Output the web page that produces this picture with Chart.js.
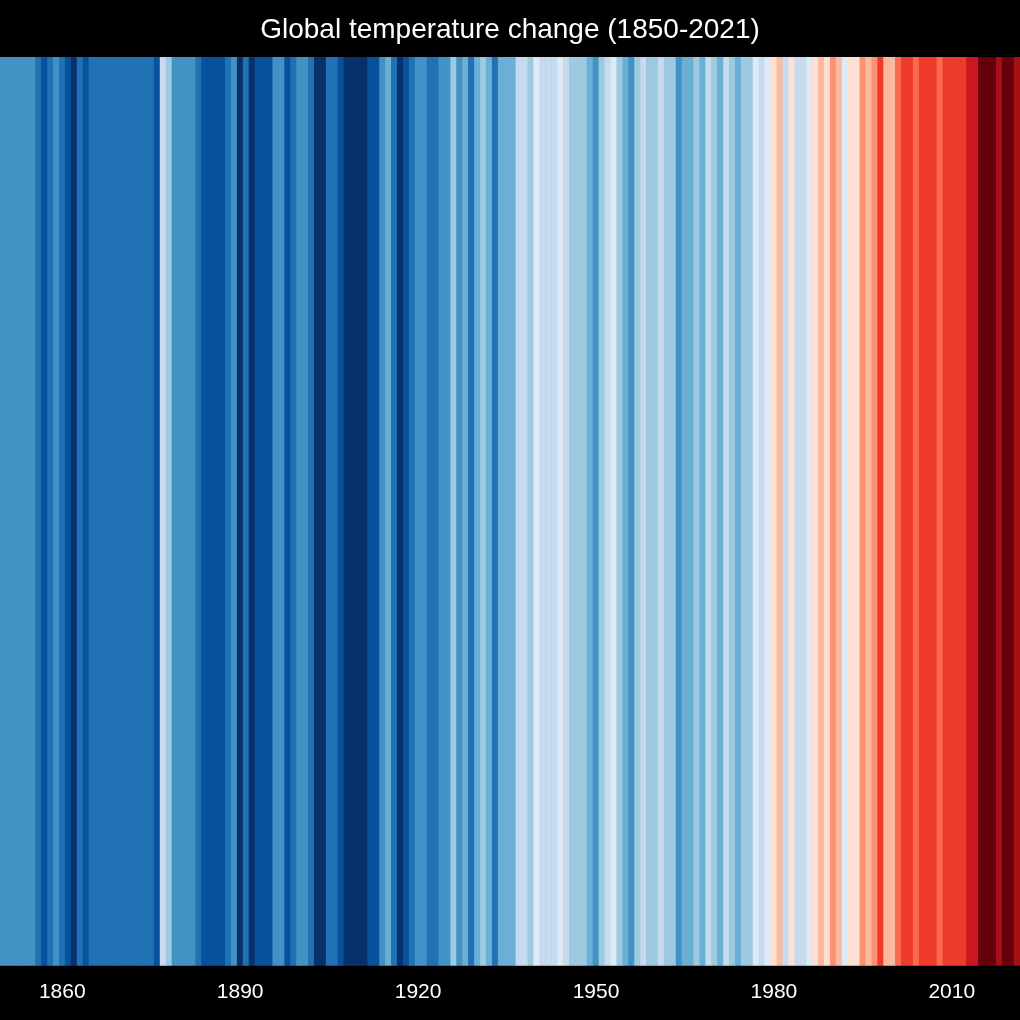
<!DOCTYPE html>
<html>
<head>
<meta charset="utf-8">
<script src="https://cdn.jsdelivr.net/npm/chart.js@4"></script>
<style>
  html, body { margin: 0; padding: 0; background: #000; }
  #wrap { width: 1020px; height: 1020px; position: relative; }
</style>
</head>
<body>
<div id="wrap"><canvas id="stripes"></canvas></div>
<script>
// yearly anomalies (°C), one row per block of years
const anom1850 = [-0.45, -0.45, -0.45, -0.45, -0.45, -0.45, -0.55, -0.65, -0.55, -0.45, -0.55, -0.65, -0.75, -0.55, -0.65];
const anom1865 = [-0.55, -0.55, -0.55, -0.55, -0.55, -0.55, -0.55, -0.55, -0.55, -0.55, -0.55, -0.65, -0.15, -0.25];
const anom1879 = [-0.45, -0.45, -0.45, -0.45, -0.55, -0.65, -0.65, -0.65, -0.65, -0.55, -0.45, -0.75, -0.55, -0.75];
const anom1893 = [-0.65, -0.65, -0.65, -0.45, -0.45, -0.65, -0.55, -0.45, -0.45, -0.55, -0.75, -0.75, -0.55, -0.55];
const anom1907 = [-0.65, -0.75, -0.75, -0.75, -0.75, -0.65, -0.65, -0.45, -0.35, -0.55, -0.75, -0.65, -0.55, -0.45, -0.45];
const anom1922 = [-0.55, -0.55, -0.45, -0.45, -0.25, -0.45, -0.35, -0.55, -0.35, -0.25, -0.35, -0.55, -0.35, -0.35];
const anom1936 = [-0.35, -0.15, -0.15, -0.25, -0.05, -0.15, -0.15, -0.15, -0.05, -0.15, -0.25, -0.25, -0.25, -0.35, -0.45];
const anom1951 = [-0.25, -0.15, -0.05, -0.25, -0.35, -0.45, -0.25, -0.15, -0.25, -0.25, -0.15, -0.25, -0.25, -0.45];
const anom1965 = [-0.35, -0.35, -0.25, -0.35, -0.15, -0.25, -0.35, -0.15, -0.25, -0.35, -0.25, -0.25, -0.05, -0.15];
const anom1979 = [-0.05, 0.05, 0.15, -0.15, 0.05, -0.15, -0.15, -0.05, 0.05, 0.15, 0.05, 0.25, 0.15, -0.05];
const anom1993 = [0.05, 0.05, 0.25, 0.15, 0.25, 0.45, 0.15, 0.15, 0.35, 0.45, 0.45, 0.35, 0.45, 0.45, 0.45];
const anom2008 = [0.35, 0.45, 0.45, 0.45, 0.45, 0.55, 0.55, 0.75, 0.75, 0.75, 0.65, 0.75, 0.75, 0.65];

const firstYear = 1850;
const tickYears = [1860, 1890, 1920, 1950, 1980, 2010];

// 8 blues + 8 reds, 0.1 °C per step starting at -0.8
const stripeColors = [
  '#08306b', '#08519c', '#2171b5', '#4292c6', '#6baed6', '#9ecae1', '#c6dbef', '#deebf7',
  '#fee0d2', '#fcbba1', '#fc9272', '#fb6a4a', '#ef3b2c', '#cb181d', '#a50f15', '#67000d'
];

const anomalies = [].concat(anom1850, anom1865, anom1879, anom1893, anom1907, anom1922,
  anom1936, anom1951, anom1965, anom1979, anom1993, anom2008);
const years = anomalies.map((_, i) => firstYear + i);

function colourFor(v) {
  let idx = Math.floor((v + 0.8) / 0.1 + 1e-6);
  idx = Math.max(0, Math.min(stripeColors.length - 1, idx));
  return stripeColors[idx];
}

const ctx = document.getElementById('stripes').getContext('2d');

new Chart(ctx, {
  type: 'bar',
  data: {
    labels: years,
    datasets: [{
      data: anomalies.map(() => 1),
      backgroundColor: anomalies.map(colourFor),
      borderWidth: 0,
      barPercentage: 1,
      categoryPercentage: 1
    }]
  },
  options: {
    responsive: true,
    maintainAspectRatio: false,
    animation: false,
    layout: { padding: { left: 0, right: 0, top: 0, bottom: 15 } },
    plugins: {
      legend: { display: false },
      tooltip: { enabled: false },
      title: {
        display: true,
        text: 'Global temperature change (1850-2021)',
        color: '#ffffff',
        font: { family: '"Liberation Sans", Arial, sans-serif', size: 28, weight: 'normal' },
        padding: { top: 13, bottom: 10.4 }
      }
    },
    scales: {
      y: { display: false, min: 0, max: 1 },
      x: {
        border: { display: false },
        grid: { display: false, drawTicks: true, tickLength: 14 },
        ticks: {
          color: '#ffffff',
          autoSkip: false,
          maxRotation: 0,
          padding: 0,
          font: { family: '"Liberation Sans", Arial, sans-serif', size: 21 },
          callback: function (value) {
            const yr = years[value];
            return tickYears.includes(yr) ? String(yr) : '';
          }
        }
      }
    }
  }
});
</script>
</body>
</html>
